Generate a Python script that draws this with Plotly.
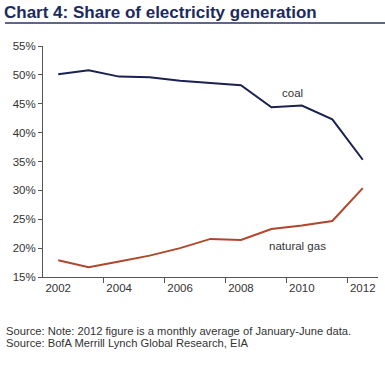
import plotly.graph_objects as go

years = [2002, 2003, 2004, 2005, 2006, 2007, 2008, 2009, 2010, 2011, 2012]
coal = [50.1, 50.8, 49.7, 49.6, 49.0, 48.6, 48.2, 44.4, 44.7, 42.3, 35.3]
gas = [17.9, 16.7, 17.7, 18.7, 20.0, 21.6, 21.4, 23.3, 23.9, 24.7, 30.4]
x_labels = ["2002", "2004", "2006", "2008", "2010", "2012"]
x_label_vals = [2002, 2004, 2006, 2008, 2010, 2012]
y_ticks = [15, 20, 25, 30, 35, 40, 45, 50, 55]

FONT = "Liberation Sans, Arial, sans-serif"

fig = go.Figure()
fig.add_trace(go.Scatter(x=years, y=coal, mode="lines",
                         line=dict(color="#1b2150", width=2), name="coal"))
fig.add_trace(go.Scatter(x=years, y=gas, mode="lines",
                         line=dict(color="#b0472b", width=2), name="natural gas"))

fig.update_layout(
    width=385, height=367,
    margin=dict(l=43, r=7, t=46, b=90),
    paper_bgcolor="white", plot_bgcolor="white",
    showlegend=False,
    font=dict(family=FONT, size=12, color="#333333"),
    title=dict(text="<b>Chart 4: Share of electricity generation</b>",
               x=4/385, xanchor="left", xref="container",
               y=1-12/367, yanchor="middle", yref="container",
               font=dict(family=FONT, size=17, color="#1c2a5e")),
    xaxis=dict(range=[2001.5, 2012.5], tickvals=x_label_vals, ticktext=x_labels,
               ticks="", showgrid=False, zeroline=False,
               showline=True, linecolor="#555555", linewidth=1,
               minor=dict(tickvals=[2003.5, 2005.5, 2007.5, 2009.5, 2011.5],
                          ticks="outside", ticklen=5, tickcolor="#555555", showgrid=False),
               tickfont=dict(size=11.5)),
    yaxis=dict(range=[15, 55], tickvals=y_ticks,
               ticktext=[f"{v}%" for v in y_ticks],
               ticks="outside", ticklen=4, tickcolor="#555555",
               showgrid=False, zeroline=False,
               showline=True, linecolor="#555555", linewidth=1,
               tickfont=dict(size=11.5)),
)

fig.add_annotation(text="coal", x=2009.7, y=46.8, xref="x", yref="y",
                   showarrow=False, font=dict(size=11.5, color="#333333"))
fig.add_annotation(text="natural gas", x=2009.85, y=20.3, xref="x", yref="y",
                   showarrow=False, font=dict(size=11.5, color="#333333"))

fig.add_shape(type="line", xref="paper", yref="paper",
              x0=-38/335, x1=1+7/335, y0=1+(46-23)/231, y1=1+(46-23)/231,
              line=dict(color="#5f6785", width=2))

fig.add_annotation(text="Source: Note: 2012 figure is a monthly average of January-June data.",
                   xref="paper", yref="paper", x=-39/335, y=-(331-277)/231,
                   xanchor="left", yanchor="middle", showarrow=False,
                   font=dict(size=11.2, color="#333333"))
fig.add_annotation(text="Source: BofA Merrill Lynch Global Research, EIA",
                   xref="paper", yref="paper", x=-39/335, y=-(343-277)/231,
                   xanchor="left", yanchor="middle", showarrow=False,
                   font=dict(size=11.2, color="#333333"))

fig.write_html("out.html", config={"displayModeBar": False},
               post_script="document.body.style.margin='0px';document.body.style.padding='0px';")
